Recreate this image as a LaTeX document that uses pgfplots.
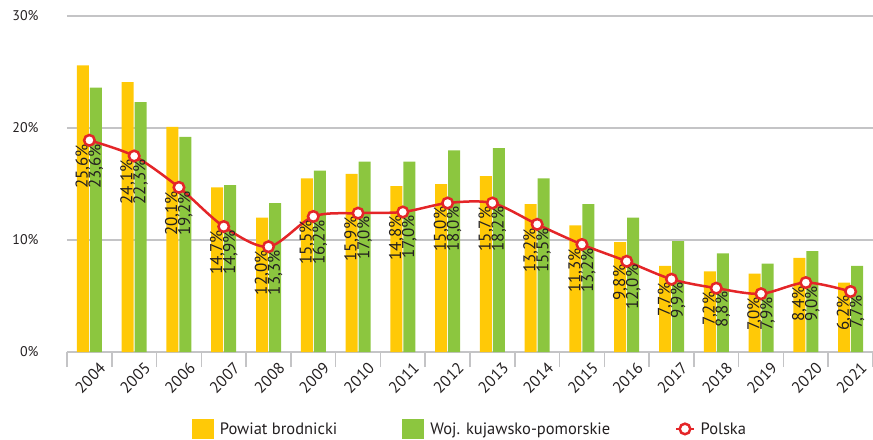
\documentclass[border=0pt]{standalone}
\usepackage{pgfplots}
\pgfplotsset{compat=1.18}
\usepackage{pgfplotstable}
\usepackage{fontspec}
\setmainfont{PT Sans}
\definecolor{cY}{HTML}{FFC907}
\definecolor{cG}{HTML}{8CC63F}
\definecolor{cR}{HTML}{E42528}
\definecolor{cGrid}{HTML}{C4C4C6}
\definecolor{cTxt}{HTML}{231F20}
\pgfplotstableread{
x brod woj pol
0 25.6 23.6 18.9
1 24.1 22.3 17.5
2 20.1 19.2 14.7
3 14.7 14.9 11.2
4 12.0 13.3 9.4
5 15.5 16.2 12.1
6 15.9 17.0 12.4
7 14.8 17.0 12.5
8 15.0 18.0 13.3
9 15.7 18.2 13.3
10 13.2 15.5 11.4
11 11.3 13.2 9.6
12 9.8 12.0 8.1
13 7.7 9.9 6.5
14 7.2 8.8 5.7
15 7.0 7.9 5.2
16 8.4 9.0 6.2
17 6.2 7.7 5.4
}\datatable
\begin{document}
\begin{tikzpicture}
\useasboundingbox (-67bp,-88bp) rectangle (806bp,352bp);
\begin{axis}[
  at={(0,0)}, anchor=south west,
  scale only axis, width=806bp, height=336bp,
  xmin=-0.5, xmax=17.5, ymin=0, ymax=30,
  enlargelimits=false, clip=false,
  axis lines*=left,
  y axis line style={draw=none},
  x axis line style={draw=cGrid, line width=1.5bp},
  ytick={0,10,20,30},
  yticklabels={0\%,10\%,20\%,30\%},
  ytick style={draw=none},
  yticklabel style={font=\fontsize{14bp}{14bp}\selectfont, text=cTxt, inner sep=0pt, xshift=-24bp},
  ymajorgrids,
  grid style={cGrid, line width=1.5bp},
  xtick={0,...,17},
  xticklabels={2004,2005,2006,2007,2008,2009,2010,2011,2012,2013,2014,2015,2016,2017,2018,2019,2020,2021},
  major x tick style={draw=none},
  minor xtick={-0.5,0.5,...,17.5},
  minor x tick style={draw=cGrid, line width=1.5bp},
  minor tick length=15bp,
  tick align=outside,
  xticklabel style={font=\fontsize{16bp}{16bp}\selectfont, text=cTxt, rotate=45, anchor=east, inner sep=0pt, xshift=3bp, yshift=-16bp},
  legend columns=3,
  legend style={at={(0.5,-0.229)}, anchor=center, draw=none, fill=none,
    font=\fontsize{16.5bp}{16.5bp}\selectfont, text=cTxt,
    /tikz/every even column/.append style={column sep=63bp},
    /tikz/every odd column/.append style={column sep=4bp}},
  /pgf/number format/assume math mode=true,
]
\addplot[ybar, bar width=12bp, bar shift=-6.5bp, fill=cY, draw=none,
  legend image code/.code={\fill[cY] (0bp,-10bp) rectangle (22bp,10bp);}]
  table[x=x, y=brod] {\datatable};
\addlegendentry{Powiat brodnicki}
\addplot[ybar, bar width=12bp, bar shift=6.5bp, fill=cG, draw=none,
  legend image code/.code={\fill[cG] (0bp,-10bp) rectangle (22bp,10bp);}]
  table[x=x, y=woj] {\datatable};
\addlegendentry{Woj. kujawsko-pomorskie}
% data labels
\addplot[draw=none, forget plot, point meta=explicit,
  nodes near coords={\pgfmathprintnumber[fixed,fixed zerofill,precision=1,use comma]{\pgfplotspointmeta}\%},
  every node near coord/.append style={rotate=90, anchor=east, inner sep=0pt, text=cTxt, font=\fontsize{17bp}{17bp}\selectfont}]
  table[x expr=\thisrow{x}-0.145, y expr=\thisrow{pol}-0.3, meta=brod] {\datatable};
\addplot[draw=none, forget plot, point meta=explicit,
  nodes near coords={\pgfmathprintnumber[fixed,fixed zerofill,precision=1,use comma]{\pgfplotspointmeta}\%},
  every node near coord/.append style={rotate=90, anchor=east, inner sep=0pt, text=cTxt, font=\fontsize{17bp}{17bp}\selectfont}]
  table[x expr=\thisrow{x}+0.145, y expr=\thisrow{pol}-0.3, meta=woj] {\datatable};
\addplot[cR, line width=2.5bp, smooth, tension=0.5, mark=*, mark size=5.3bp,
  mark options={fill=white, draw=cR, line width=2.5bp}]
  table[x=x, y=pol] {\datatable};
\addlegendentry{Polska}
\end{axis}
\end{tikzpicture}
\end{document}
